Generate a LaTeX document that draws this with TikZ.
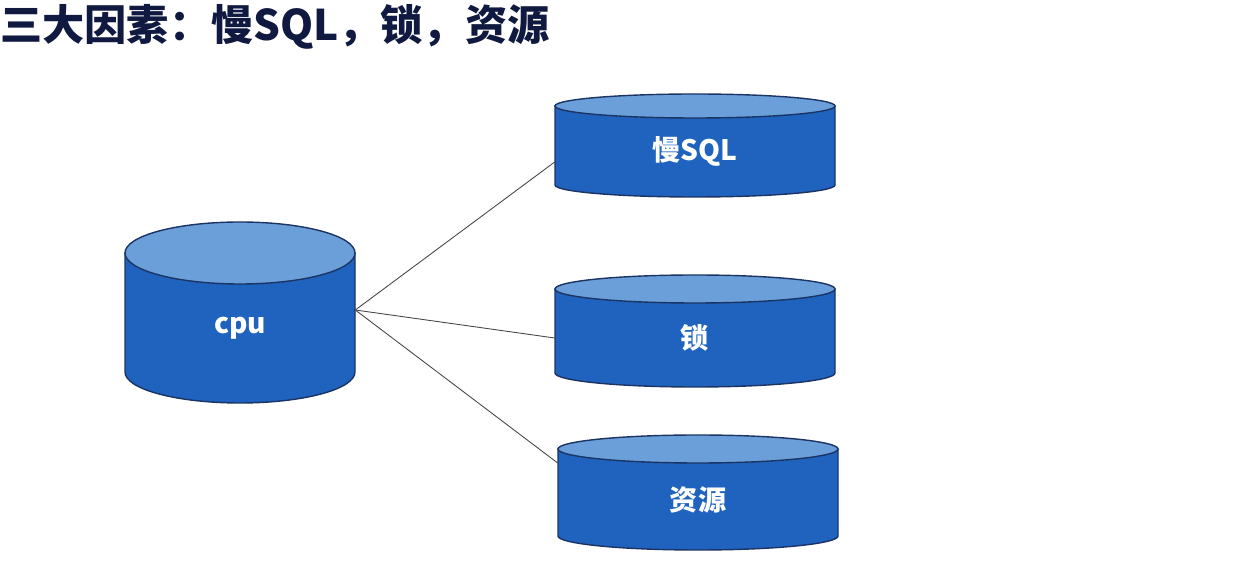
\documentclass[tikz,border=0pt]{standalone}
\usepackage{fontspec}
\setmainfont{Noto Sans CJK SC}

\definecolor{bodyblue}{RGB}{31,99,191}
\definecolor{topblue}{RGB}{107,159,217}
\definecolor{rimblue}{RGB}{27,52,100}
\definecolor{titleink}{RGB}{16,26,64}
\definecolor{linkgray}{RGB}{70,70,70}

\newcommand*{\picw}{1235}
\newcommand*{\pich}{580}

% drum: name, x, top y, bottom y, x radius, y radius, label
\newcommand*{\drum}[7]{%
	\filldraw[drumbody] (#2-#5,#3) -- (#2-#5,#4)
		arc[start angle=180,end angle=360,x radius=#5*0.02cm,y radius=#6*0.02cm]
		-- (#2+#5,#3) -- cycle;
	\filldraw[drumtop] (#2,#3) ellipse[x radius=#5*0.02cm,y radius=#6*0.02cm];
	\node[drumlabel,minimum width=#5*0.04cm] (#1) at (#2,{(#3+#4+#6)/2}) {#7};
}

\begin{document}
\begin{tikzpicture}
[
	x=0.02cm, y=-0.02cm,
	drumbody/.style={fill=bodyblue,draw=rimblue,line width=0.8pt},
	drumtop/.style={fill=topblue,draw=rimblue,line width=0.8pt},
	drumlabel/.style={inner sep=0pt,minimum height=0.6cm,text=white,font=\fontsize{16}{18}\selectfont\bfseries},
	link/.style={draw=linkgray,line width=0.5pt}
]

	\useasboundingbox (0,0) rectangle (\picw,\pich);

	% title
	\node[anchor=north west,inner sep=0pt,text=titleink,font=\fontsize{24}{28}\selectfont\bfseries] (title) at (0,4) {三大因素：慢SQL，锁，资源};

	% drums
	\drum{cpu}{240}{253}{372}{115}{31}{cpu}
	\drum{sql}{695}{106}{185}{140}{12}{慢SQL}
	\drum{lock}{695}{289}{373}{140}{14}{锁}
	\drum{res}{698}{449}{536}{140}{14}{资源}

	% links
	\draw[link] ([yshift=0.36cm]cpu.east) -- ([yshift=-0.21cm]sql.west);
	\draw[link] ([yshift=0.36cm]cpu.east) -- (lock.west);
	\draw[link] ([yshift=0.36cm]cpu.east) -- ([yshift=0.73cm]res.west);

\end{tikzpicture}
\end{document}
